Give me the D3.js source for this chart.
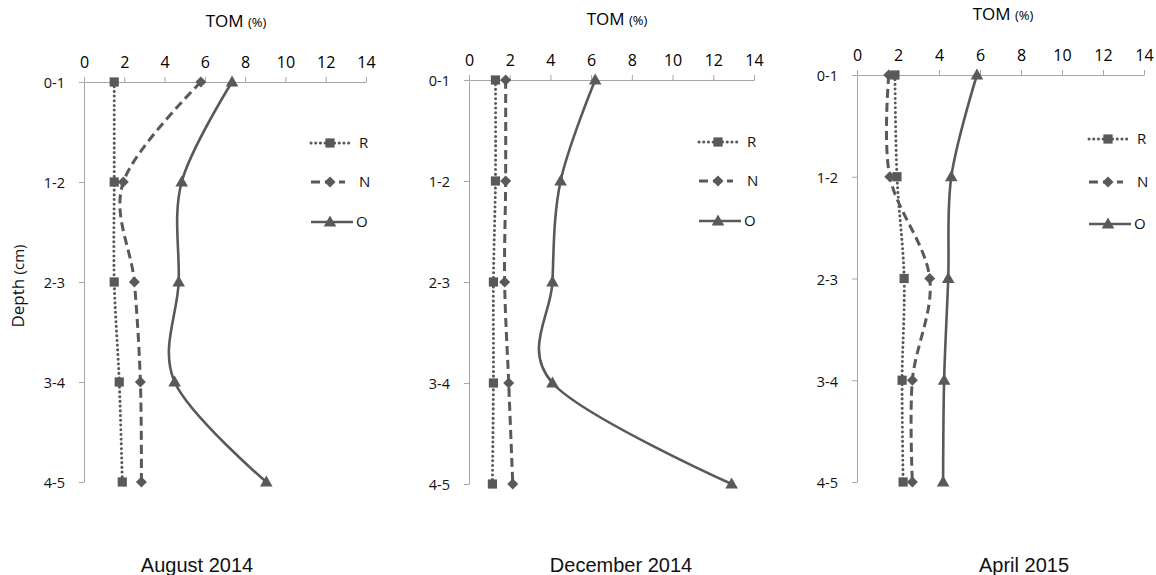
<!DOCTYPE html>
<html>
<head>
<meta charset="utf-8">
<script src="https://cdn.jsdelivr.net/npm/d3@7"></script>
<style>
  body { margin: 0; background: #fff; }
  svg { display: block; }
</style>
</head>
<body>
<div id="chart"></div>
<script>
// Depth categories and x ticks
const depths = ["0-1", "1-2", "2-3", "3-4", "4-5"];
const xTicks = [0, 2, 4, 6, 8, 10, 12, 14];
const seriesNames = ["R", "N", "O"];
const months = ["August 2014", "December 2014", "April 2015"];

// TOM (%) values
const augR = [1.5, 1.5, 1.5, 1.75, 1.9];
const augN = [5.8, 1.95, 2.5, 2.8, 2.85];
const augO = [7.35, 4.85, 4.7, 4.5, 9.05];
const decR = [1.3, 1.3, 1.2, 1.2, 1.15];
const decN = [1.8, 1.8, 1.75, 1.95, 2.15];
const decO = [6.2, 4.5, 4.1, 4.1, 12.9];
const aprR = [1.85, 1.95, 2.3, 2.2, 2.25];
const aprN = [1.55, 1.6, 3.55, 2.7, 2.7];
const aprO = [5.85, 4.6, 4.45, 4.25, 4.2];

const panelValues = [
  [augR, augN, augO],
  [decR, decN, decO],
  [aprR, aprN, aprO],
];

// Plot frames (pixel layout) for each panel
const frames = [
  { left: 84, right: 366, top: 82, bottom: 482, titleX: 236, legY: [143, 182, 222], monthX: 197 },
  { left: 469, right: 754, top: 80, bottom: 484, titleX: 617, legY: [142, 181, 221], monthX: 621 },
  { left: 857, right: 1144, top: 75, bottom: 482, titleX: 1003, legY: [139, 182, 224], monthX: 1024 },
];

const W = 1156, H = 575;
const ink = "#595959";
const axisColor = "#a6a6a6";
const font = "'Open Sans', sans-serif";

// line style per series: dotted, dashed, solid
const styles = [
  { dash: "0.1,4.6", width: 3, cap: "round", marker: "square" },
  { dash: "9,5", width: 3, cap: "butt", marker: "diamond" },
  { dash: null, width: 2.6, cap: "butt", marker: "triangle" },
];

const svg = d3.select("#chart").append("svg").attr("width", W).attr("height", H);

const drawMarker = (g, type, x, y) => {
  if (type === "square") {
    g.append("rect").attr("x", x - 4.6).attr("y", y - 4.6)
      .attr("width", 9.2).attr("height", 9.2).attr("fill", ink);
  } else if (type === "diamond") {
    g.append("path").attr("d", `M${x},${y - 5.5}L${x + 5.5},${y}L${x},${y + 5.5}L${x - 5.5},${y}Z`)
      .attr("fill", ink);
  } else {
    g.append("path").attr("d", `M${x},${y - 6.5}L${x + 6.3},${y + 4.5}L${x - 6.3},${y + 4.5}Z`)
      .attr("fill", ink);
  }
};

frames.forEach((f, pi) => {
  const g = svg.append("g");

  const x = d3.scaleLinear().domain([0, 14]).range([f.left, f.right]);
  const y = d3.scalePoint().domain(depths).range([f.top, f.bottom]).padding(0);

  // top value axis
  const xAxis = g.append("g")
    .attr("transform", `translate(0,${f.top})`)
    .call(d3.axisTop(x).tickValues(xTicks).tickSize(5).tickPadding(9).tickSizeOuter(0));
  xAxis.select(".domain").attr("stroke", axisColor);
  xAxis.selectAll(".tick line").attr("stroke", axisColor);
  xAxis.selectAll(".tick text")
    .attr("fill", "#000").style("font-family", font).style("font-size", "16px");

  // left depth axis
  const yAxis = g.append("g")
    .attr("transform", `translate(${f.left},0)`)
    .call(d3.axisLeft(y).tickSize(5).tickPadding(14).tickSizeOuter(0));
  yAxis.select(".domain").attr("stroke", axisColor);
  yAxis.selectAll(".tick line").attr("stroke", axisColor);
  yAxis.selectAll(".tick text")
    .attr("fill", "#111").attr("dy", "0.4em").style("font-family", font).style("font-size", "14.5px");

  // axis title
  const t = g.append("text")
    .attr("x", f.titleX).attr("y", f.top - 55)
    .attr("text-anchor", "middle")
    .attr("fill", "#000").style("font-family", font).style("font-size", "17px");
  t.append("tspan").text("TOM ");
  t.append("tspan").style("font-size", "13px").text("(%)");

  // series
  const line = d3.line()
    .x((d) => x(d.v))
    .y((d) => y(d.depth))
    .curve(d3.curveCardinal.tension(0));

  panelValues[pi].forEach((vals, si) => {
    const st = styles[si];
    const pts = vals.map((v, i) => ({ v, depth: depths[i] }));
    g.append("path")
      .datum(pts)
      .attr("d", line)
      .attr("fill", "none")
      .attr("stroke", ink)
      .attr("stroke-width", st.width)
      .attr("stroke-linecap", st.cap)
      .attr("stroke-dasharray", st.dash);
    const mg = g.append("g");
    pts.forEach((p) => drawMarker(mg, st.marker, x(p.v), y(p.depth)));
  });

  // legend
  seriesNames.forEach((name, si) => {
    const st = styles[si];
    const ly = f.legY[si];
    const lx = f.right - 55;
    const len = si === 2 ? 42 : (si === 1 ? 34 : 40);
    g.append("line")
      .attr("x1", lx).attr("x2", lx + len).attr("y1", ly).attr("y2", ly)
      .attr("stroke", ink).attr("stroke-width", st.width)
      .attr("stroke-linecap", st.cap).attr("stroke-dasharray", st.dash);
    drawMarker(g, st.marker, lx + 19, ly);
    g.append("text")
      .attr("x", lx + (si === 2 ? 45 : 48)).attr("y", ly).attr("dy", "0.35em")
      .attr("fill", "#111").style("font-family", font).style("font-size", "15px")
      .text(name);
  });

  // month label
  svg.append("text")
    .attr("x", f.monthX).attr("y", 572)
    .attr("text-anchor", "middle")
    .attr("fill", "#111")
    .style("font-family", "'Liberation Sans', Arial, sans-serif")
    .style("font-size", "20px")
    .text(months[pi]);
});

// vertical axis title (first panel only)
const yt = svg.append("text")
  .attr("transform", "translate(24,286) rotate(-90)")
  .attr("text-anchor", "middle")
  .attr("fill", "#111").style("font-family", font).style("font-size", "17px");
yt.append("tspan").text("Depth ");
yt.append("tspan").style("font-size", "15px").text("(cm)");
</script>
</body>
</html>
